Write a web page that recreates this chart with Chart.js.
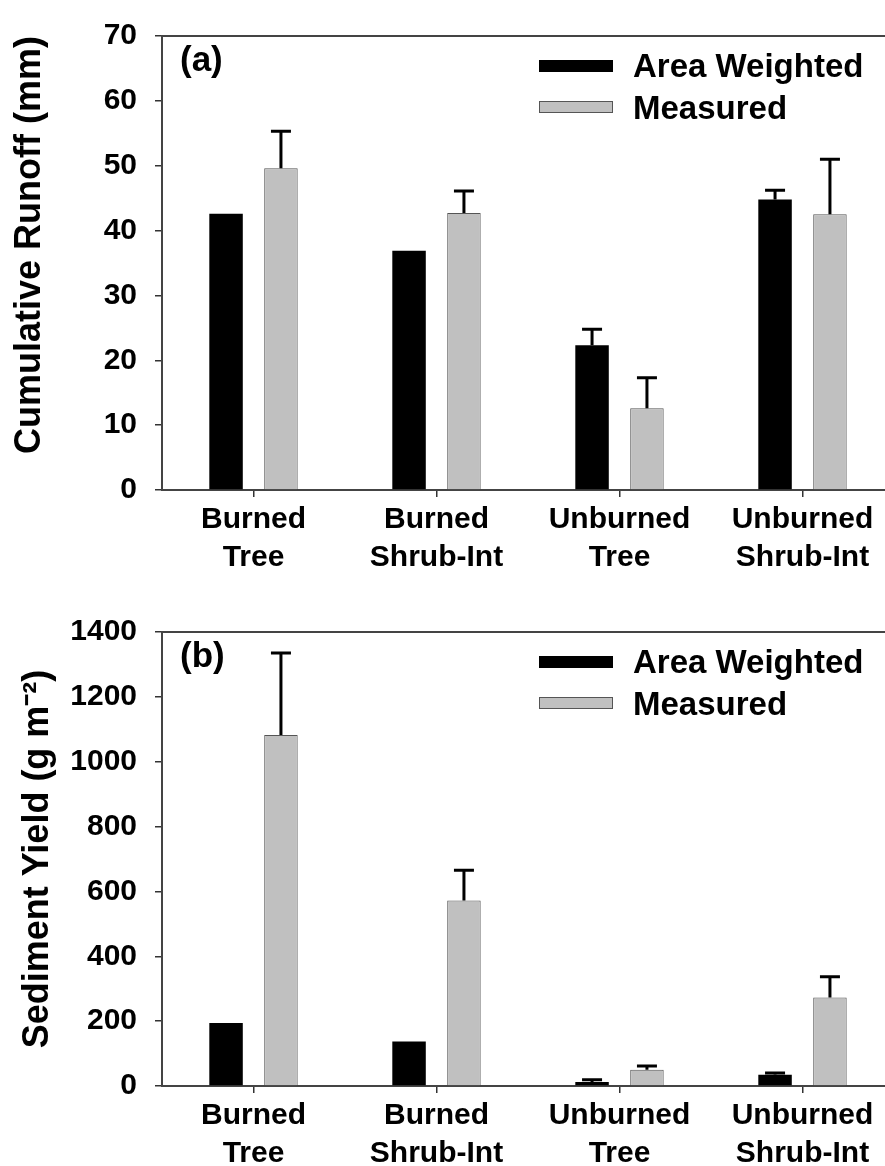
<!DOCTYPE html>
<html>
<head>
<meta charset="utf-8">
<script src="https://cdn.jsdelivr.net/npm/chart.js@4.4.0/dist/chart.umd.min.js"></script>
<style>
    html, body { margin: 0; padding: 0; background: #fff; overflow: hidden; width: 885px; height: 1166px; }
    .panel { position: absolute; left: 0; width: 900px; }
    #panelA { top: 0; height: 590px; }
    #panelB { top: 596px; height: 570px; }
    .tag { position: absolute; left: 180px; top: 41px; font: bold 35px/35px 'Liberation Sans', Arial, sans-serif; color: #000; }
    .legend-row { position: absolute; left: 539px; font: bold 33px/33px 'Liberation Sans', Arial, sans-serif; color: #000; white-space: nowrap; }
    .swatch { position: absolute; left: 0; width: 74px; height: 12px; box-sizing: border-box; }
    .legend-text { position: absolute; left: 94px; top: 0; }
</style>
</head>
<body>
<div class="panel" id="panelA">
    <canvas id="runoffChart" width="900" height="590"></canvas>
    <div class="tag">(a)</div>
    <div class="legend" id="legendA"></div>
</div>
<div class="panel" id="panelB">
    <canvas id="sedimentChart" width="900" height="570"></canvas>
    <div class="tag">(b)</div>
    <div class="legend" id="legendB"></div>
</div>
<script>
(function() {
    // Data
    const categories = [['Burned', 'Tree'], ['Burned', 'Shrub-Int'], ['Unburned', 'Tree'], ['Unburned', 'Shrub-Int']];
    const seriesNames = ['Area Weighted', 'Measured'];
    const seriesColors = ['#000000', '#c0c0c0'];

    const runoffWeighted = [42.6, 36.9, 22.3, 44.8];
    const runoffWeightedErr = [0, 0, 2.5, 1.4];
    const runoffMeasured = [49.6, 42.7, 12.6, 42.5];
    const runoffMeasuredErr = [5.7, 3.4, 4.7, 8.5];
    const runoffTicks = [0, 70, 10];   // min, max, step

    const sedimentWeighted = [194, 137, 12, 35];
    const sedimentWeightedErr = [0, 0, 7, 5];
    const sedimentMeasured = [1082, 572, 50, 273];
    const sedimentMeasuredErr = [253, 93, 12, 64];
    const sedimentTicks = [0, 1400, 200];

    const fontFamily = "'Liberation Sans', Arial, sans-serif";
    const axisColor = '#444';

    // Upward-only error bars drawn from the bar elements and the y scale
    const errorBarPlugin = {
        id: 'errorBars',
        afterDatasetsDraw(chart) {
            const ctx = chart.ctx;
            const yScale = chart.scales.y;
            ctx.save();
            ctx.strokeStyle = '#000';
            ctx.lineWidth = 3;
            chart.data.datasets.forEach((ds, i) => {
                const meta = chart.getDatasetMeta(i);
                meta.data.forEach((bar, j) => {
                    const err = ds.errors[j];
                    if (!err) return;
                    const yTop = yScale.getPixelForValue(ds.data[j] + err);
                    ctx.beginPath();
                    ctx.moveTo(bar.x, bar.y);
                    ctx.lineTo(bar.x, yTop);
                    ctx.moveTo(bar.x - 10, yTop);
                    ctx.lineTo(bar.x + 10, yTop);
                    ctx.stroke();
                });
            });
            ctx.restore();
        }
    };

    function makeChart(canvasId, values, errors, ticks, title, titleAlign, titlePad, xHeight) {
        return new Chart(document.getElementById(canvasId), {
            type: 'bar',
            data: {
                labels: categories,
                datasets: seriesNames.map((name, i) => ({
                    label: name,
                    data: values[i],
                    errors: errors[i],
                    backgroundColor: seriesColors[i],
                    borderColor: i === 0 ? '#000' : '#555',
                    borderWidth: i === 0 ? 0 : 1,
                    categoryPercentage: 0.6,
                    barPercentage: 0.61
                }))
            },
            options: {
                responsive: false,
                animation: false,
                devicePixelRatio: 1,
                layout: { padding: { top: 25, right: 6, left: 0, bottom: 0 } },
                plugins: {
                    legend: { display: false },
                    tooltip: { enabled: false }
                },
                scales: {
                    x: {
                        grid: { display: true, drawOnChartArea: false, drawTicks: true, tickLength: 7, offset: false, color: '#333', lineWidth: 1.5 },
                        border: { display: true, color: axisColor, width: 2 },
                        ticks: {
                            color: '#000',
                            padding: 4,
                            maxRotation: 0,
                            autoSkip: false,
                            font: { family: fontFamily, size: 30, weight: 'bold', lineHeight: 1.25 }
                        },
                        afterFit: (scale) => { scale.height = xHeight; }
                    },
                    x2: {
                        position: 'top',
                        grid: { display: false, drawTicks: false },
                        ticks: { display: false },
                        border: { display: true, color: axisColor, width: 2 },
                        afterFit: (scale) => { scale.height = 0; }
                    },
                    y: {
                        min: ticks[0],
                        max: ticks[1],
                        grid: { display: true, drawOnChartArea: false, drawTicks: true, tickLength: 7, color: '#333', lineWidth: 1.5 },
                        border: { display: true, color: axisColor, width: 2 },
                        ticks: {
                            stepSize: ticks[2],
                            color: '#000',
                            padding: 18,
                            callback: (value) => String(value),
                            font: { family: fontFamily, size: 30, weight: 'bold' }
                        },
                        title: {
                            display: true,
                            text: title,
                            color: '#000',
                            align: titleAlign,
                            padding: { top: titlePad, bottom: 0 },
                            font: { family: fontFamily, size: 36, weight: 'bold', lineHeight: 1.2 }
                        },
                        afterFit: (scale) => { scale.width = 162; }
                    }
                }
            },
            plugins: [errorBarPlugin]
        });
    }

    function buildLegend(id) {
        const holder = document.getElementById(id);
        const tops = [49, 91];
        const swatchOffsets = [11, 10];
        holder.innerHTML = seriesNames.map((name, i) => `
            <div class="legend-row" style="top:${tops[i]}px">
                <span class="swatch" style="top:${swatchOffsets[i]}px;background:${seriesColors[i]};border:${i === 0 ? 'none' : '1px solid #555'}"></span>
                <span class="legend-text">${name}</span>
            </div>
        `).join('');
    }

    makeChart('runoffChart',
        [runoffWeighted, runoffMeasured],
        [runoffWeightedErr, runoffMeasuredErr],
        runoffTicks, 'Cumulative Runoff (mm)', 'end', 8, 100);

    makeChart('sedimentChart',
        [sedimentWeighted, sedimentMeasured],
        [sedimentWeightedErr, sedimentMeasuredErr],
        sedimentTicks, 'Sediment Yield (g m\u207B\u00B2)', 'center', 16, 80);

    buildLegend('legendA');
    buildLegend('legendB');
})();
</script>
</body>
</html>
